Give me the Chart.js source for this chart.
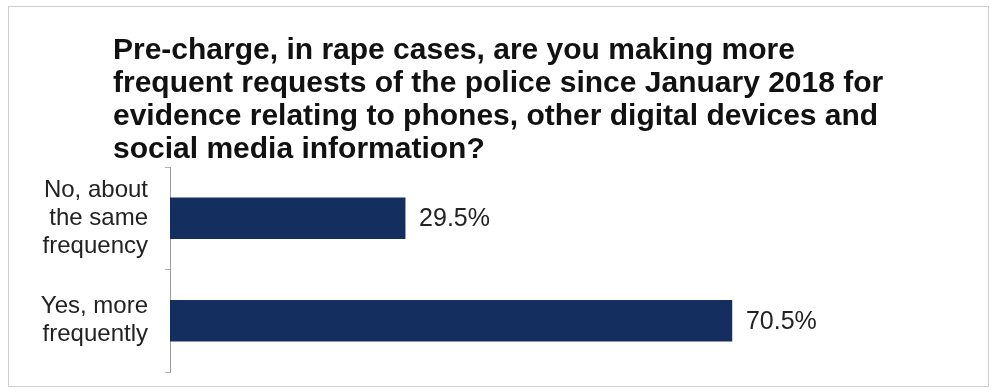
<!DOCTYPE html>
<html>
<head>
<meta charset="utf-8">
<script src="https://cdn.jsdelivr.net/npm/chart.js@4/dist/chart.umd.min.js"></script>
<style>
    html, body { margin: 0; padding: 0; background: #fff; }
    #wrap { position: relative; width: 997px; height: 392px; overflow: hidden; }
    #frame {
        position: absolute; left: 8px; top: 6px; width: 981px; height: 381px;
        border: 1px solid #cfcfcf; box-sizing: border-box;
    }
    #title {
        position: absolute; left: 113px; top: 32px;
        font-family: "Liberation Sans", Arial, sans-serif; font-weight: bold;
        font-size: 30px; line-height: 33px; color: #111;
    }
    canvas { position: absolute; left: 0; top: 0; }
</style>
</head>
<body>
<div id="wrap">
    <div id="frame"></div>
    <canvas id="myChart" width="997" height="392"></canvas>
    <div id="title">Pre-charge, in rape cases, are you making more<br>frequent requests of the police since January 2018 for<br>evidence relating to phones, other digital devices and<br>social media information?</div>
</div>
<script>
// categories i valors del gràfic
const categories = [
    ['No, about', 'the same', 'frequency'],
    ['Yes, more', 'frequently']
];
const values = [29.5, 70.5];
const xMin = 0;
const xMax = 100;

// escrivim el percentatge al final de cada barra
const valueLabels = {
    id: 'valueLabels',
    afterDatasetsDraw(chart) {
        const ctx = chart.ctx;
        const meta = chart.getDatasetMeta(0);
        ctx.save();
        ctx.font = '25px "Liberation Sans", Arial, sans-serif';
        ctx.fillStyle = '#222';
        ctx.textBaseline = 'middle';
        meta.data.forEach((bar, i) => {
            ctx.fillText(values[i].toFixed(1) + '%', bar.x + 14, bar.y + 1);
        });
        ctx.restore();
    }
};

const ctx = document.getElementById('myChart').getContext('2d');
const chart = new Chart(ctx, {
    type: 'bar',
    data: {
        labels: categories,
        datasets: [{
            data: values,
            backgroundColor: '#142f5f',
            barThickness: 41
        }]
    },
    options: {
        indexAxis: 'y',
        responsive: false,
        animation: false,
        layout: {
            padding: { top: 167, bottom: 20, right: 30, left: 0 }
        },
        plugins: {
            legend: { display: false },
            tooltip: { enabled: false }
        },
        scales: {
            x: {
                display: false,
                min: xMin,
                max: xMax
            },
            y: {
                // amplada fixa de l'eix i sense marge extra per les etiquetes
                afterFit: (scale) => {
                    scale.width = 170;
                    scale.paddingTop = 0;
                    scale.paddingBottom = 0;
                },
                grid: {
                    drawOnChartArea: false,
                    offset: true,
                    tickLength: 5,
                    color: '#b0b0b0'
                },
                border: { color: '#9a9a9a', width: 1 },
                ticks: {
                    color: '#222',
                    padding: 17,
                    font: { family: '"Liberation Sans", Arial, sans-serif', size: 24, lineHeight: 1.17 }
                }
            }
        }
    },
    plugins: [valueLabels]
});
</script>
</body>
</html>
